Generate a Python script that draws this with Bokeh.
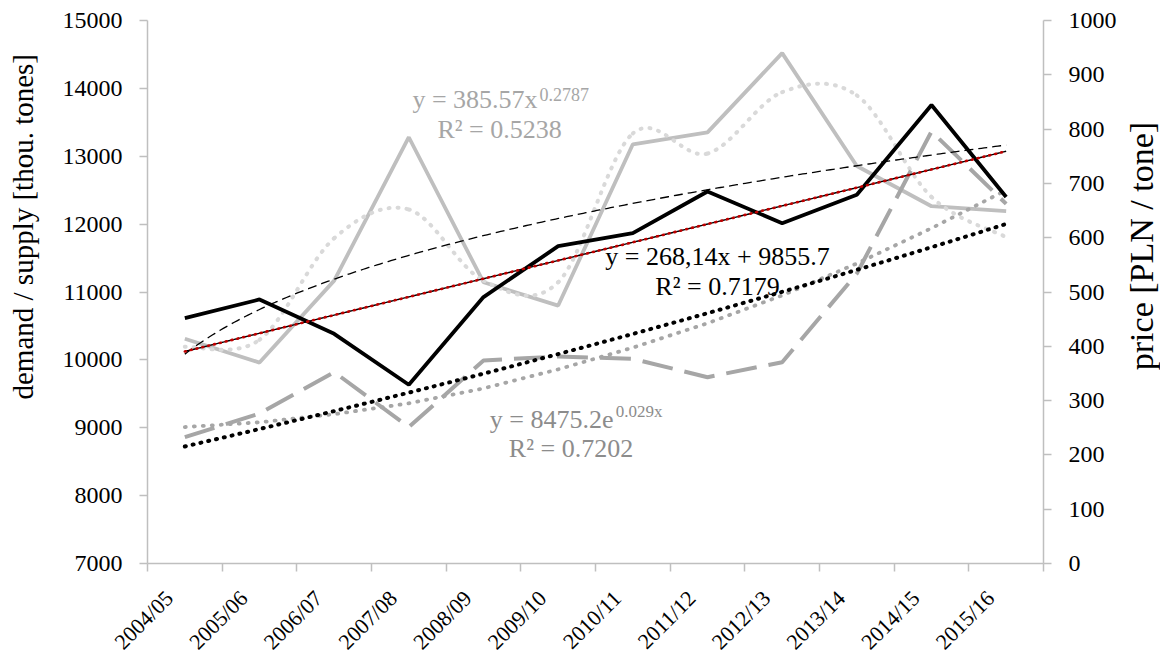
import numpy as np
from bokeh.plotting import figure
from bokeh.layouts import row
from bokeh.models import Range1d, LinearAxis, FixedTicker, SingleIntervalTicker, Label
from bokeh.core.properties import value
from bokeh.embed import file_html
from bokeh.resources import INLINE

# Marketing years on the horizontal axis
categories = ["2004/05", "2005/06", "2006/07", "2007/08", "2008/09", "2009/10",
              "2010/11", "2011/12", "2012/13", "2013/14", "2014/15", "2015/16"]

# Demand and supply, thousand tonnes (left axis)
demand = [10614, 10890, 10384, 9633, 10925, 11675, 11867, 12481, 12014, 12432, 13755, 12400]
supply = [8861, 9210, 9820, 9010, 9991, 10050, 10016, 9745, 9966, 11272, 13365, 12299]
supply_smooth = [9010, 9080, 9200, 9360, 9580, 9860, 10180, 10540, 10950, 11420, 11940, 12500]

# Prices, PLN per tonne (right axis)
price = [414, 370, 521, 785, 518, 475, 772, 794, 940, 732, 658, 649]
price_alt = [399, 412, 599, 652, 521, 518, 792, 755, 868, 862, 675, 601]

# Trend line coefficients
lin_slope, lin_icept = 268.14, 9855.7       # demand, linear
pow_coef, pow_exp = 385.57, 0.2787          # price, power
exp_coef, exp_rate = 8475.2, 0.029          # supply, exponential

FONT = "Liberation Serif"
NBSP = "\u00a0"
n = len(categories)
x = np.arange(1, n + 1)
xt = np.linspace(1, n, 300)

p = figure(frame_width=896, frame_height=543,
           x_range=Range1d(0.5, n + 0.5), y_range=Range1d(7000, 15000),
           output_backend="svg", toolbar_location=None,
           min_border_left=147, min_border_right=73,
           min_border_top=20, min_border_bottom=89)
p.extra_y_ranges = {"price": Range1d(0, 1000)}
p.xgrid.visible = False
p.ygrid.visible = False
p.outline_line_color = None
p.background_fill_color = "white"
p.border_fill_color = "white"

AX = "#bfbfbf"

# bottom axis: slanted year labels, tick marks between categories
label_shift = 0.21
label_pos = [round(float(i) - label_shift, 2) for i in x]
xa = p.xaxis[0]
xa.ticker = FixedTicker(ticks=label_pos, minor_ticks=list(np.arange(0.5, n + 1, 1.0)))
xa.major_label_overrides = {k: c for k, c in zip(label_pos, categories)}
xa.major_label_orientation = np.pi / 4
xa.major_tick_out = 0
xa.major_tick_in = 0
xa.minor_tick_out = 8
xa.minor_tick_in = 0
xa.minor_tick_line_color = AX
xa.axis_line_color = AX
xa.axis_line_width = 1.5
xa.minor_tick_line_width = 1.5
xa.major_label_text_font = FONT
xa.major_label_text_font_size = "22px"
xa.major_label_text_color = "black"
xa.major_label_standoff = 23

# left axis; its title sits above the middle of the axis (leading no-break spaces)
ya = p.yaxis[0]
ya.ticker = SingleIntervalTicker(interval=1000)
ya.axis_label = NBSP * 18 + "demand / supply [thou. tones]"
ya.axis_label_standoff = 21
ya.axis_label_text_font_size = "29px"
ya.axis_label_text_font = FONT
ya.axis_label_text_font_style = "normal"
ya.axis_label_text_color = "black"

# right axis (its title is drawn in a narrow strip beside the chart)
yr = LinearAxis(y_range_name="price", ticker=SingleIntervalTicker(interval=100))
p.add_layout(yr, "right")

for ax in (ya, yr):
    ax.minor_tick_out = 0
    ax.minor_tick_in = 0
    ax.major_tick_out = 8
    ax.major_tick_in = 0
    ax.axis_line_color = AX
    ax.axis_line_width = 1.5
    ax.major_tick_line_color = AX
    ax.major_tick_line_width = 1.5
    ax.major_label_text_font = FONT
    ax.major_label_text_font_size = "24px"
    ax.major_label_text_color = "black"
    ax.major_label_standoff = 17


def smooth(xv, yv):
    """Cubic Bezier segments of a smoothed line through the points."""
    xv = np.asarray(xv, float)
    yv = np.asarray(yv, float)
    xp = np.concatenate([[xv[0]], xv, [xv[-1]]])
    yp = np.concatenate([[yv[0]], yv, [yv[-1]]])
    m = len(xv)
    return dict(
        x0=xv[:-1], y0=yv[:-1], x1=xv[1:], y1=yv[1:],
        cx0=xp[1:m] + (xp[2:m + 1] - xp[0:m - 1]) / 6,
        cy0=yp[1:m] + (yp[2:m + 1] - yp[0:m - 1]) / 6,
        cx1=xp[2:m + 1] - (xp[3:m + 2] - xp[1:m]) / 6,
        cy1=yp[2:m + 1] - (yp[3:m + 2] - yp[1:m]) / 6,
    )


# price series
p.line(x, price, y_range_name="price", line_color="#bfbfbf", line_width=3.8)
p.bezier(**smooth(x, price_alt), y_range_name="price", line_color="#d9d9d9",
         line_width=4, line_dash="1 8", line_cap="round")

# supply series
p.line(x, supply, line_color="#a6a6a6", line_width=4, line_dash="31 12")
p.line(x, supply_smooth, line_color="#a6a6a6", line_width=3.8,
       line_dash="1 8", line_cap="round")

# demand series
p.line(x, demand, line_color="black", line_width=3.8)

# trend lines
p.line(xt, pow_coef * xt ** pow_exp, y_range_name="price",
       line_color="black", line_width=1.3, line_dash="9 5")
p.line(xt, exp_coef * np.exp(exp_rate * xt), line_color="black", line_width=4,
       line_dash="1 7", line_cap="round")
p.line(xt, lin_slope * xt + lin_icept, line_color="black", line_width=1.4)
p.line(xt, lin_slope * xt + lin_icept, line_color="#c00000", line_width=2.6,
       line_dash="1 5", line_cap="round")


def label(xp_, yp_, text, size, color, align="center"):
    p.add_layout(Label(x=xp_, y=yp_, text=text, text_font=FONT, text_font_size=size,
                       text_color=color, text_align=align, text_baseline="alphabetic"))


G1 = "#a6a6a6"
G2 = "#8c8c8c"
# power trend equation
label(5.724, 13836, f"y = {pow_coef}x", "26px", G1, "right")
label(5.75, 13911, f"{pow_exp}", "18px", G1, "left")
label(5.215, 13394, "R² = 0.5238", "26px", G1)
# linear trend equation
label(8.134, 11523, "y = 268,14x + 9855.7", "26px", "black")
label(8.134, 11081, "R² = 0.7179", "26px", "black")
# exponential trend equation
label(6.74, 9121, f"y = {exp_coef}e", "26px", G2, "right")
label(6.77, 9239, f"{exp_rate}x", "17px", G2, "left")
label(6.172, 8694, "R² = 0.7202", "26px", G2)

# strip holding the right-hand axis title, read upwards
strip_w, strip_h = 44, 652
t = figure(width=strip_w, height=strip_h, x_range=Range1d(0, strip_w),
           y_range=Range1d(0, strip_h), output_backend="svg", toolbar_location=None,
           x_axis_location=None, y_axis_location=None, min_border=0)
t.grid.visible = False
t.outline_line_color = None
t.background_fill_color = "white"
t.border_fill_color = "white"
t.text(x=[strip_w / 2], y=[374], text=["price [PLN / tone]"], angle=np.pi / 2,
       text_font=value(FONT), text_font_size="34px", text_color="black",
       text_align="center", text_baseline="middle")

layout = row(p, t, spacing=0)
open("out.html", "w").write(file_html(layout, INLINE))
